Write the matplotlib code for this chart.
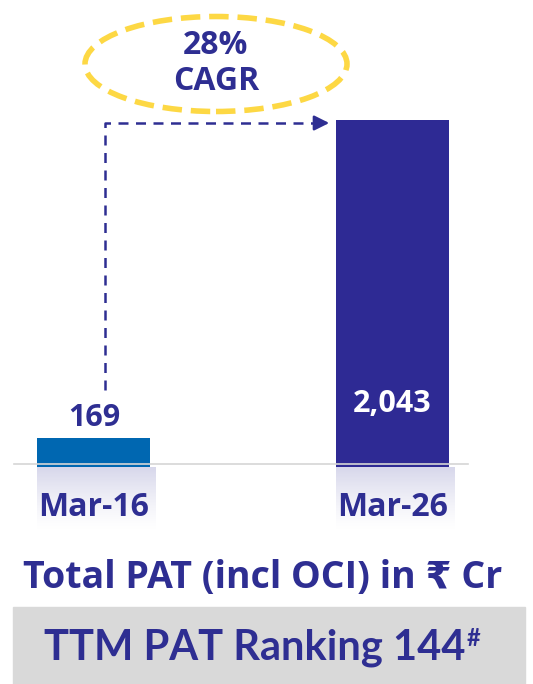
import numpy as np
import matplotlib.pyplot as plt
from matplotlib.patches import Ellipse, Rectangle
from matplotlib.text import Annotation

# data
periods = ["Mar-16", "Mar-26"]
pat_values = [169, 2043]
value_labels = ["169", "2,043"]
cagr_text = "28%\nCAGR"
title_text = "Total PAT (incl OCI) in \u20b9 Cr"
ranking_text = "TTM PAT Ranking 144"

NAVY = "#2e2e92"
BAR_COLORS = ["#0067b1", "#2e2a94"]
YELLOW = "#fdd844"
FONT = "Open Sans"

W, H = 533, 684
fig = plt.figure(figsize=(W / 100, H / 100), dpi=100)

# ranking box (behind everything)
fig.patches.append(Rectangle((13 / W, 0), 512 / W, (684 - 607) / H,
                             transform=fig.transFigure, color="#d9d9d9", zorder=-5))

ax = fig.add_axes([0, 0, 1, 1])
ax.axis("off")
ax.patch.set_alpha(0)

# map pixel layout onto data units: baseline at y=467px, 2043 -> 120px
base_px, top_px = 467, 120
vs = pat_values[1] / (base_px - top_px)
ax.set_ylim(-(H - base_px) * vs, base_px * vs)
x0_px, x1_px = 94, 392.5
hs = 1 / (x1_px - x0_px)
ax.set_xlim(-x0_px * hs, (W - x0_px) * hs)


def px(x, y):
    return (x - x0_px) * hs, (base_px - y) * vs


xs = np.arange(len(periods))
bar_w = 113 * hs
ax.bar(xs, pat_values, width=bar_w, color=BAR_COLORS, zorder=3)

# faded shadow under each bar
grad = np.ones((100, 1, 4))
grad[:, 0, :3] = np.array([0.82, 0.82, 0.91])
grad[:, 0, 3] = np.linspace(0.9, 0.0, 100) ** 1.3
for x in xs:
    _, t = px(0, 467)
    _, b = px(0, 530)
    ax.imshow(grad, extent=(x - bar_w / 2, x + bar_w / 2 + 6 * hs, b, t),
              aspect="auto", zorder=1, interpolation="bilinear")

# baseline
ax.axhline(px(0, 463.5)[1], xmin=14 / W, xmax=468 / W, color="#d6d6d6", lw=1.2, zorder=4)

# value labels
ax.text(xs[0], px(0, 418)[1], value_labels[0], ha="center", va="center",
        color=NAVY, fontsize=22, fontweight="bold", family=FONT, zorder=5)
ax.text(xs[1], px(0, 404)[1], value_labels[1], ha="center", va="center",
        color="white", fontsize=22, fontweight="bold", family=FONT, zorder=5)

# category labels
for x, lab in zip(xs, periods):
    ax.text(x, px(0, 508)[1], lab, ha="center", va="center", color=NAVY,
            fontsize=23, fontweight="bold", family=FONT, zorder=5)

# dashed arrow from first bar to second
ax.plot(*zip(px(105, 390), px(105, 123), px(318, 123)), color=NAVY, lw=1.8,
        dashes=(4, 3), zorder=4)
ax.annotate("", xy=px(332, 123), xytext=px(316, 123),
            arrowprops=dict(arrowstyle="-|>,head_length=0.9,head_width=0.45",
                            color=NAVY, lw=1.8))

# CAGR ellipse
cx, cy = px(216, 64)
ax.add_patch(Ellipse((cx, cy), 262 * hs, 95 * vs, fill=False, edgecolor=YELLOW,
                     lw=4, linestyle=(0, (3.5, 1.6)), zorder=4))
ax.text(cx, cy, cagr_text, ha="center", va="center", color=NAVY, fontsize=23,
        fontweight="bold", family=FONT, linespacing=1.12, zorder=5)

# title
fig.text(263 / W, 1 - 578 / H, title_text, ha="center", va="center", color=NAVY,
         fontsize=27, fontweight="bold", family=[FONT, "DejaVu Sans"])

# ranking text with superscript #
rt = fig.text(255 / W, 1 - 648 / H, ranking_text, ha="center", va="center",
              color=NAVY, fontsize=30, fontweight="bold", family="Lato")
fig.add_artist(Annotation("#", xy=(1, 1), xycoords=rt, xytext=(1, 1),
                          textcoords="offset points", ha="left", va="top",
                          color=NAVY, fontsize=17, fontweight="bold",
                          family="Lato"))

fig.savefig("out.png", dpi=100)
